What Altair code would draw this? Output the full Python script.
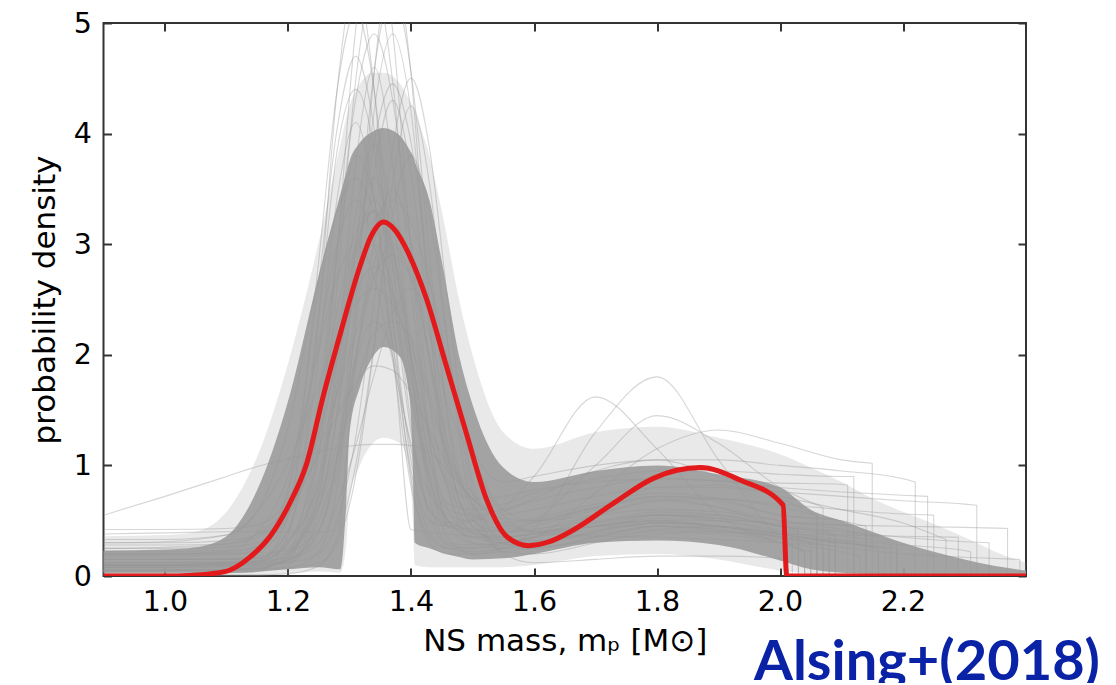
import altair as alt
import pandas as pd

# ---------------- posterior-mean curve (red) ----------------
RED_X = [0.90, 1.00, 1.04, 1.075, 1.106, 1.138, 1.171, 1.203, 1.230, 1.257, 1.285, 1.317, 1.335,
         1.355, 1.375, 1.393, 1.4255, 1.458, 1.490, 1.523, 1.556, 1.591, 1.625, 1.664, 1.729,
         1.794, 1.870, 1.935, 2.005, 2.011, 2.40]
RED_Y = [0.0, 0.0, 0.005, 0.02, 0.054, 0.17, 0.36, 0.66, 1.01, 1.62, 2.19, 2.80, 3.07,
         3.20, 3.12, 2.95, 2.50, 1.89, 1.29, 0.69, 0.355, 0.274, 0.31, 0.416, 0.657,
         0.883, 0.98, 0.868, 0.642, 0.0, 0.0]

# ---------------- dense core / halo of the posterior samples ----------------
BAND_X = [0.90, 1.00, 1.05, 1.10, 1.15, 1.20, 1.25, 1.285, 1.295, 1.30, 1.317, 1.338, 1.355, 1.382,
          1.398, 1.403, 1.406, 1.43, 1.45, 1.48, 1.50, 1.55, 1.60, 1.70, 1.80, 1.90, 2.00, 2.05,
          2.10, 2.15, 2.20, 2.25, 2.30, 2.35, 2.40]
CORE_LO = [0.03, 0.03, 0.03, 0.03, 0.04, 0.06, 0.08, 0.06, 0.70, 1.29, 1.71, 1.98, 2.07, 1.98,
           1.59, 0.99, 0.30, 0.25, 0.21, 0.17, 0.15, 0.16, 0.20, 0.30, 0.32, 0.28, 0.14, 0.06,
           0.03, 0.02, 0.01, 0.01, 0.00, 0.00, 0.00]
CORE_HI = [0.23, 0.24, 0.26, 0.36, 0.78, 1.58, 2.72, 3.45, 3.65, 3.75, 3.92, 4.02, 4.05, 3.98,
           3.85, 3.80, 3.75, 3.40, 2.85, 1.95, 1.55, 0.98, 0.85, 0.95, 1.00, 0.92, 0.80, 0.60,
           0.50, 0.40, 0.30, 0.22, 0.15, 0.09, 0.05]
HALO_LO = [0.0, 0.0, 0.0, 0.0, 0.0, 0.02, 0.04, 0.03, 0.30, 0.70, 1.00, 1.20, 1.25, 1.20,
           0.90, 0.50, 0.10, 0.08, 0.08, 0.08, 0.08, 0.08, 0.10, 0.18, 0.20, 0.15, 0.05, 0.02,
           0.0, 0.0, 0.0, 0.0, 0.0, 0.0, 0.0]
HALO_HI = [0.36, 0.37, 0.40, 0.58, 1.08, 1.92, 3.02, 3.90, 4.15, 4.25, 4.45, 4.55, 4.55, 4.45,
           4.30, 4.25, 4.20, 3.80, 3.30, 2.45, 2.00, 1.30, 1.15, 1.30, 1.35, 1.25, 1.10, 0.98,
           0.85, 0.70, 0.58, 0.47, 0.35, 0.22, 0.12]

# ---------------- individual posterior samples (grey) ----------------
GRID = [0.90, 1.00, 1.10, 1.15, 1.20, 1.25, 1.28, 1.31, 1.34, 1.37, 1.40, 1.43, 1.46, 1.50,
        1.55, 1.60, 1.70, 1.80, 1.90, 2.00, 2.10, 2.20, 2.30]
S01 = [0.05, 0.05, 0.06, 0.07, 0.15, 1.10, 2.63, 4.48, 5.35, 4.48, 2.63, 1.20, 0.60, 0.38, 0.35, 0.38, 0.45, 0.50, 0.45, 0.35, 0.30]
S02 = [0.12, 0.12, 0.13, 0.14, 0.16, 0.40, 1.10, 2.50, 4.20, 4.90, 4.20, 2.50, 1.15, 0.45, 0.32, 0.32, 0.40, 0.55, 0.55, 0.45, 0.40]
S03 = [0.20, 0.20, 0.21, 0.27, 0.80, 2.65, 4.05, 4.70, 4.05, 2.62, 1.30, 0.60, 0.45, 0.42, 0.45, 0.50, 0.62, 0.70, 0.62, 0.45, 0.42]
S04 = [0.25, 0.26, 0.29, 0.38, 0.62, 1.10, 1.45, 1.75, 1.90, 1.86, 1.65, 1.32, 1.00, 0.70, 0.52, 0.50, 0.55, 0.60, 0.58, 0.50, 0.46, 0.45]
S05 = [0.02, 0.02, 0.03, 0.04, 0.10, 0.60, 1.45, 2.72, 3.92, 4.45, 3.92, 2.72, 1.45, 0.55, 0.22, 0.20, 0.30, 0.42, 0.45, 0.40, 0.32, 0.25]
S06 = [0.08, 0.08, 0.09, 0.10, 0.12, 0.20, 0.50, 1.25, 2.50, 3.87, 4.50, 3.87, 2.48, 0.85, 0.30, 0.25, 0.35, 0.45, 0.42, 0.30, 0.22]
S07 = [0.10, 0.10, 0.11, 0.12, 0.18, 1.25, 2.92, 4.94, 5.80, 4.94, 2.92, 1.25, 0.45, 0.30, 0.28, 0.30, 0.36, 0.40, 0.38, 0.30, 0.22, 0.18]
S08 = [0.15, 0.15, 0.15, 0.16, 0.40, 2.35, 4.40, 5.40, 4.40, 2.35, 0.88, 0.35, 0.25, 0.25, 0.28, 0.35, 0.55, 0.68, 0.62, 0.50, 0.42, 0.30]
S09 = [0.10, 0.10, 0.11, 0.12, 0.22, 0.63, 1.10, 1.69, 2.20, 2.30, 2.15, 1.65, 1.10, 0.65, 0.40, 0.42, 0.55, 0.68, 0.70, 0.62, 0.55]
S10 = [0.55, 0.72, 0.90, 0.99, 1.06, 1.12, 1.16, 1.18, 1.19, 1.19, 1.18, 1.12, 0.95, 0.70, 0.50, 0.40, 0.36, 0.35, 0.33, 0.30, 0.28]
S11 = [0.38, 0.39, 0.40, 0.40, 0.40, 0.40, 0.42, 1.90, 2.30, 2.00, 0.42, 0.40, 0.38, 0.36, 0.33, 0.32, 0.38, 0.45, 0.44, 0.38, 0.36]
S12 = [0.42, 0.42, 0.43, 0.46, 0.70, 1.45, 2.25, 3.00, 3.30, 2.97, 2.15, 1.30, 0.80, 0.55, 0.48, 0.52, 0.65, 0.75, 0.70, 0.55, 0.50, 0.40]
S13 = [0.33, 0.33, 0.37, 0.59, 1.34, 2.70, 3.30, 3.60, 3.28, 2.50, 1.60, 0.88, 0.50, 0.35, 0.30, 0.30, 0.40, 0.48, 0.45, 0.38, 0.30]
S14 = [0.28, 0.28, 0.29, 0.35, 0.57, 1.15, 1.65, 2.19, 2.70, 2.90, 2.70, 2.19, 1.54, 1.07, 0.60, 0.50, 0.62, 0.80, 0.82, 0.72, 0.60, 0.48, 0.33]
S15 = [0.05, 0.05, 0.05, 0.06, 0.17, 0.82, 1.67, 2.60, 3.00, 2.60, 1.67, 0.82, 0.35, 0.20, 0.25, 0.42, 1.30, 1.80, 1.05, 0.35, 0.22]
S16 = [0.18, 0.18, 0.19, 0.25, 0.75, 2.12, 3.00, 3.40, 3.00, 2.10, 1.15, 0.60, 0.48, 0.52, 0.62, 0.90, 1.62, 1.15, 0.55, 0.30, 0.22]
S17 = [0.10, 0.10, 0.10, 0.11, 0.14, 0.50, 1.05, 1.97, 2.83, 3.20, 2.83, 1.97, 1.06, 0.45, 0.30, 0.35, 0.75, 1.15, 1.32, 1.20, 1.05, 1.02]
S18 = [0.15, 0.15, 0.15, 0.16, 0.33, 0.85, 1.80, 3.02, 3.60, 3.02, 1.80, 0.88, 0.50, 0.42, 0.40, 0.50, 1.00, 1.45, 1.20, 0.80, 0.62]
S19 = [0.05, 0.05, 0.06, 0.08, 0.15, 0.30, 0.65, 1.18, 1.82, 2.37, 2.60, 2.37, 1.85, 1.15, 0.85, 0.90, 1.00, 1.05, 1.05, 1.00, 0.95, 0.88, 0.85]
S20 = [0.20, 0.20, 0.22, 0.40, 0.90, 2.05, 2.70, 3.00, 2.70, 1.95, 1.20, 0.75, 0.55, 0.50, 0.55, 0.60, 0.72, 0.80, 0.80, 0.76, 0.72, 0.68, 0.65, 0.64]
S21 = [0.08, 0.08, 0.08, 0.09, 0.12, 0.40, 0.95, 1.95, 3.01, 3.50, 3.01, 1.95, 0.95, 0.40, 0.35, 0.38, 0.45, 0.50, 0.50, 0.48, 0.46, 0.45, 0.44, 0.43]
S22 = [0.12, 0.12, 0.12, 0.13, 0.30, 0.90, 1.95, 3.26, 3.90, 3.26, 1.95, 0.90, 0.45, 0.40, 0.42, 0.48, 0.62, 0.72, 0.70, 0.65, 0.60, 0.56, 0.55]
S23 = [0.03, 0.03, 0.03, 0.04, 0.37, 2.00, 3.42, 4.10, 3.42, 2.00, 0.81, 0.30, 0.20, 0.20, 0.22, 0.25, 0.32, 0.38, 0.40, 0.38, 0.37, 0.36, 0.35]
S24 = [0.15, 0.15, 0.16, 0.18, 0.25, 0.70, 1.20, 1.98, 2.70, 3.00, 2.70, 1.98, 1.20, 0.65, 0.35, 0.40, 0.45, 0.45, 0.40, 0.33, 0.26, 0.20, 0.17, 0.15]
S25 = [0.30, 0.30, 0.32, 0.37, 0.60, 1.25, 1.95, 2.55, 2.80, 2.55, 1.95, 1.25, 0.85, 0.70, 0.72, 0.78, 0.85, 0.88, 0.86, 0.84, 0.83, 0.82]
S26 = [0.00, 0.00, 0.01, 0.01, 0.02, 0.09, 0.35, 1.00, 2.09, 3.27, 3.80, 3.27, 2.09, 0.75, 0.20, 0.12, 0.15, 0.18, 0.18, 0.16, 0.15]
S27 = [0.06, 0.06, 0.06, 0.06, 0.07, 0.22, 0.82, 2.36, 4.54, 5.60, 4.54, 2.36, 0.82, 0.30, 0.25, 0.30, 0.40, 0.48, 0.45, 0.38, 0.30, 0.26]
S28 = [0.22, 0.22, 0.23, 0.26, 0.62, 2.35, 3.85, 4.40, 3.85, 2.35, 1.05, 0.50, 0.45, 0.50, 0.58, 0.70, 0.95, 1.05, 0.90, 0.70, 0.55]
S29 = [0.10, 0.10, 0.12, 0.20, 0.52, 1.30, 1.96, 2.66, 3.20, 3.40, 3.20, 2.66, 1.96, 1.12, 0.55, 0.40, 0.48, 0.55, 0.52, 0.45, 0.40]
S30 = [0.30, 0.31, 0.37, 0.58, 1.03, 1.73, 2.18, 2.46, 2.60, 2.46, 2.08, 1.58, 1.07, 0.75, 0.47, 0.40, 0.45, 0.52, 0.50, 0.42, 0.36, 0.30]
S31 = [0.10, 0.10, 0.10, 0.11, 0.14, 0.72, 1.95, 3.72, 4.60, 3.72, 1.95, 0.72, 0.30, 0.28, 0.30, 0.35, 0.45, 0.55, 0.50, 0.40, 0.35]
S32 = [0.20, 0.20, 0.20, 0.21, 0.23, 0.42, 1.05, 2.25, 3.65, 4.30, 3.65, 2.25, 1.05, 0.50, 0.40, 0.45, 0.60, 0.72, 0.68, 0.55, 0.50, 0.45]
S33 = [0.04, 0.04, 0.05, 0.10, 0.55, 2.85, 4.40, 5.10, 4.40, 2.82, 1.38, 0.55, 0.28, 0.25, 0.30, 0.36, 0.45, 0.50, 0.45, 0.35, 0.28]
S34 = [0.06, 0.06, 0.06, 0.07, 0.08, 0.12, 0.30, 0.90, 2.07, 3.55, 4.25, 3.55, 2.07, 0.62, 0.25, 0.25, 0.35, 0.45, 0.42, 0.35, 0.30, 0.25]
S35 = [0.12, 0.12, 0.12, 0.14, 0.42, 1.62, 2.99, 4.31, 4.90, 4.31, 2.99, 1.57, 0.76, 0.39, 0.30, 0.35, 0.42, 0.48, 0.45, 0.38, 0.30, 0.25]
S36 = [0.15, 0.15, 0.15, 0.16, 0.22, 0.64, 1.49, 2.92, 4.56, 5.30, 4.56, 2.92, 1.39, 0.52, 0.35, 0.38, 0.48, 0.58, 0.55, 0.45, 0.38]
S37 = [0.10, 0.10, 0.11, 0.13, 0.30, 1.12, 2.05, 2.92, 3.30, 2.90, 2.01, 1.06, 0.50, 0.35, 0.38, 0.42, 0.50, 0.55, 0.52, 0.46, 0.40, 0.35, 0.31, 0.30]
S38 = [0.25, 0.25, 0.26, 0.30, 0.55, 1.50, 2.40, 3.10, 3.30, 2.80, 1.80, 0.95, 0.60, 0.55, 0.60, 0.68, 0.80, 0.88, 0.86, 0.80, 0.76, 0.73, 0.72]
S39 = [0.05, 0.05, 0.05, 0.06, 0.20, 1.40, 2.90, 3.80, 3.40, 2.10, 0.95, 0.40, 0.25, 0.22, 0.25, 0.30, 0.38, 0.42, 0.40, 0.36, 0.32, 0.28, 0.23, 0.22]
S40 = [0.08, 0.08, 0.09, 0.10, 0.20, 0.75, 1.70, 2.90, 3.40, 2.95, 2.00, 1.05, 0.65, 0.60, 0.65, 0.75, 0.88, 0.95, 0.95, 0.92, 0.90, 0.90]
SAMPLES = [S01, S02, S03, S04, S05, S06, S07, S08, S09, S10, S11, S12, S13, S14, S15,
           S16, S17, S18, S19, S20, S21, S22, S23, S24, S25, S26, S27, S28, S29, S30,
           S31, S32, S33, S34, S35, S36, S37, S38, S39, S40]
# maximum-mass cut-off of each sample (last value of each list is the density there)
SAMPLE_CUTS = [2.05, 2.08, 2.03, 2.12, 2.16, 2.04, 2.13, 2.19, 2.06, 2.07, 2.02, 2.14, 2.09, 2.27, 2.04,
               2.05, 2.15, 2.07, 2.22, 2.32, 2.37, 2.25, 2.29, 2.39, 2.11, 2.01, 2.17, 2.06, 2.03, 2.18,
               2.06, 2.14, 2.08, 2.19, 2.16, 2.09, 2.34, 2.24, 2.31, 2.12]

XTICKS = [1.0, 1.2, 1.4, 1.6, 1.8, 2.0, 2.2]
YTICKS = [0, 1, 2, 3, 4, 5]

# ---------------- tables ----------------
band_df = pd.DataFrame({"x": BAND_X, "core_lo": CORE_LO, "core_hi": CORE_HI,
                        "halo_lo": HALO_LO, "halo_hi": HALO_HI})
rows, drops = [], []
for k, (ys, cut) in enumerate(zip(SAMPLES, SAMPLE_CUTS)):
    xs = [g for g in GRID if g < cut]
    n = min(len(xs), len(ys) - 1)
    pts = list(zip(xs[:n], ys[:n])) + [(cut, ys[-1])]
    for i, (x, y) in enumerate(pts):
        rows.append({"curve": k, "i": i, "x": x, "y": y})
    drops.append({"curve": k, "x": cut, "y": ys[-1], "zero": 0.0})
lines_df = pd.DataFrame(rows)
drops_df = pd.DataFrame(drops)
red_df = pd.DataFrame({"x": RED_X, "y": RED_Y, "i": list(range(len(RED_X)))})

# ---------------- scales & axes ----------------
FONT = "DejaVu Sans"
xscale = alt.Scale(domain=[0.9, 2.4], nice=False, zero=False)
yscale = alt.Scale(domain=[0, 5], nice=False, zero=True)
tick_common = dict(tickSize=8, tickWidth=2, tickColor="#333333", offset=-8,
                   domain=False, grid=False)
ax_bottom = alt.Axis(orient="bottom", values=XTICKS, format=".1f", labelPadding=11,
                     labelFont=FONT, labelFontSize=28.5, labelColor="#000000",
                     title="NS mass, mₚ [M⊙]", titleFont=FONT, titleFontSize=31,
                     titleFontWeight="normal", titleColor="#000000", titlePadding=11,
                     **tick_common)
ax_top = alt.Axis(orient="top", values=XTICKS, labels=False, title=None, **tick_common)
ax_left = alt.Axis(orient="left", values=YTICKS, format="d", labelPadding=12,
                   labelFont=FONT, labelFontSize=28.5, labelColor="#000000",
                   title="probability density", titleFont=FONT, titleFontSize=31,
                   titleFontWeight="normal", titleColor="#000000", titlePadding=12,
                   **tick_common)
ax_right = alt.Axis(orient="right", values=YTICKS, labels=False, title=None, **tick_common)

halo = alt.Chart(band_df).mark_area(color="#999999", opacity=0.22, interpolate="monotone").encode(
    x=alt.X("x:Q", scale=xscale, axis=ax_top),
    y=alt.Y("halo_lo:Q", scale=yscale, axis=ax_right),
    y2="halo_hi:Q",
)
core = alt.Chart(band_df).mark_area(color="#9c9c9c", opacity=0.92, interpolate="monotone").encode(
    x=alt.X("x:Q", scale=xscale, axis=ax_bottom),
    y=alt.Y("core_lo:Q", scale=yscale, axis=ax_left),
    y2="core_hi:Q",
)
samples = alt.Chart(lines_df).mark_line(color="#999999", opacity=0.4, strokeWidth=1.1,
                                        interpolate="monotone", clip=True).encode(
    x=alt.X("x:Q", scale=xscale, axis=None),
    y=alt.Y("y:Q", scale=yscale, axis=None),
    detail="curve:N",
    order="i:Q",
)
cutoffs = alt.Chart(drops_df).mark_rule(color="#999999", opacity=0.4, strokeWidth=1.1).encode(
    x=alt.X("x:Q", scale=xscale, axis=None),
    y=alt.Y("y:Q", scale=yscale, axis=None),
    y2="zero:Q",
)
red = alt.Chart(red_df).mark_line(color="#e31a1c", strokeWidth=5, interpolate="monotone",
                                  clip=True).encode(
    x=alt.X("x:Q", scale=xscale, axis=None),
    y=alt.Y("y:Q", scale=yscale, axis=None),
    order="i:Q",
)

chart = alt.layer(halo, core, samples, cutoffs, red).resolve_axis(
    x="independent", y="independent"
).properties(
    width=922.5,
    height=553,
    autosize=alt.AutoSizeParams(type="none"),
    padding={"left": 95.5, "top": 15, "right": 80, "bottom": 107},
    title=alt.TitleParams(text="Alsing+(2018)", orient="bottom", anchor="end", frame="group",
                          font="Lato", fontSize=56, fontWeight="bold", color="#0a23a6",
                          dx=74, offset=23, baseline="alphabetic"),
).configure_view(stroke="#333333", strokeWidth=2)

chart.save("out.html", embed_options={"renderer": "svg", "actions": False})
